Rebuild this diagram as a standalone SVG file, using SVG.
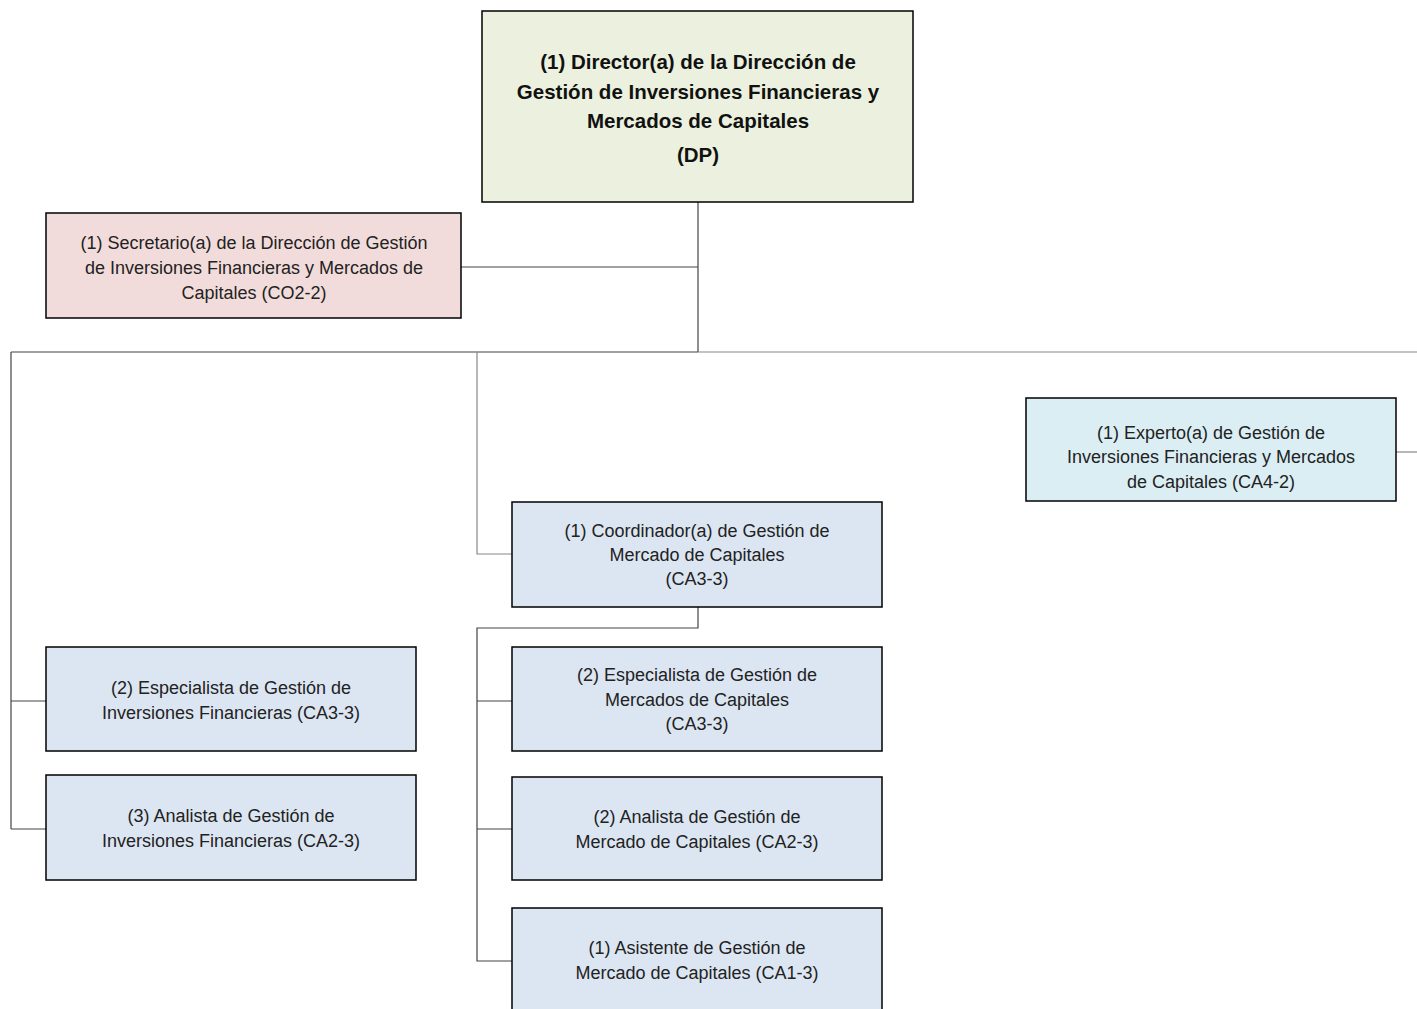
<svg xmlns="http://www.w3.org/2000/svg" width="1417" height="1009" viewBox="0 0 1417 1009">
<style>
.box{stroke:#000;stroke-width:1.5}
.dir{fill:#EBF1DE}
.sec{fill:#F2DCDB}
.blu{fill:#DCE6F2}
.exp{fill:#DBEEF4}
.t{font-family:"Liberation Sans",Arial,sans-serif;font-size:18px;fill:#222;text-anchor:middle}
.tb{font-family:"Liberation Sans",Arial,sans-serif;font-size:20.5px;font-weight:bold;fill:#111;text-anchor:middle}
.c{fill:none;stroke:#444;stroke-width:1.2}
.cl{fill:none;stroke:#888;stroke-width:1.2}
</style>
<rect width="1417" height="1009" fill="#fff"/>
<g id="connectors">
<path class="c" d="M698 202V352"/>
<path class="c" d="M461 267H698"/>
<path class="c" d="M11 352H698"/>
<path class="cl" d="M698 352H1417"/>
<path class="c" d="M11 352V829"/>
<path class="c" d="M11 701H46M11 829H46"/>
<path class="cl" d="M477 352V554H512"/>
<path class="c" d="M698 607V628H477V961H512"/>
<path class="c" d="M477 701H512M477 829H512"/>
<path class="cl" d="M1396 452H1417"/>
</g>
<g id="director">
<rect class="box dir" x="482" y="11" width="431" height="191"/>
<text class="tb" x="698" y="69">(1) Director(a)  de la Dirección de</text>
<text class="tb" x="698" y="99">Gestión  de Inversiones  Financieras  y</text>
<text class="tb" x="698" y="128">Mercados  de Capitales</text>
<text class="tb" x="698" y="162">(DP)</text>
</g>
<g id="secretario">
<rect class="box sec" x="46" y="213" width="415" height="105"/>
<text class="t" x="254" y="249">(1) Secretario(a) de la Dirección de Gestión</text>
<text class="t" x="254" y="274">de Inversiones Financieras y Mercados de</text>
<text class="t" x="254" y="299">Capitales (CO2-2)</text>
</g>
<g id="experto">
<rect class="box exp" x="1026" y="398" width="370" height="103"/>
<text class="t" x="1211" y="439">(1) Experto(a) de Gestión de</text>
<text class="t" x="1211" y="463">Inversiones Financieras y  Mercados</text>
<text class="t" x="1211" y="488">de Capitales  (CA4-2)</text>
</g>
<g id="coordinador">
<rect class="box blu" x="512" y="502" width="370" height="105"/>
<text class="t" x="697" y="537">(1) Coordinador(a) de Gestión de</text>
<text class="t" x="697" y="561">Mercado de Capitales</text>
<text class="t" x="697" y="585">(CA3-3)</text>
</g>
<g id="especialista-if">
<rect class="box blu" x="46" y="647" width="370" height="104"/>
<text class="t" x="231" y="694">(2) Especialista de Gestión de</text>
<text class="t" x="231" y="719">Inversiones Financieras  (CA3-3)</text>
</g>
<g id="analista-if">
<rect class="box blu" x="46" y="775" width="370" height="105"/>
<text class="t" x="231" y="822">(3) Analista de Gestión de</text>
<text class="t" x="231" y="847">Inversiones Financieras  (CA2-3)</text>
</g>
<g id="especialista-mc">
<rect class="box blu" x="512" y="647" width="370" height="104"/>
<text class="t" x="697" y="681">(2) Especialista de Gestión de</text>
<text class="t" x="697" y="706">Mercados de Capitales</text>
<text class="t" x="697" y="730">(CA3-3)</text>
</g>
<g id="analista-mc">
<rect class="box blu" x="512" y="777" width="370" height="103"/>
<text class="t" x="697" y="823">(2) Analista de Gestión de</text>
<text class="t" x="697" y="848">Mercado de Capitales  (CA2-3)</text>
</g>
<g id="asistente">
<rect class="box blu" x="512" y="908" width="370" height="110"/>
<text class="t" x="697" y="954">(1) Asistente de Gestión de</text>
<text class="t" x="697" y="979">Mercado de Capitales  (CA1-3)</text>
</g>
</svg>
